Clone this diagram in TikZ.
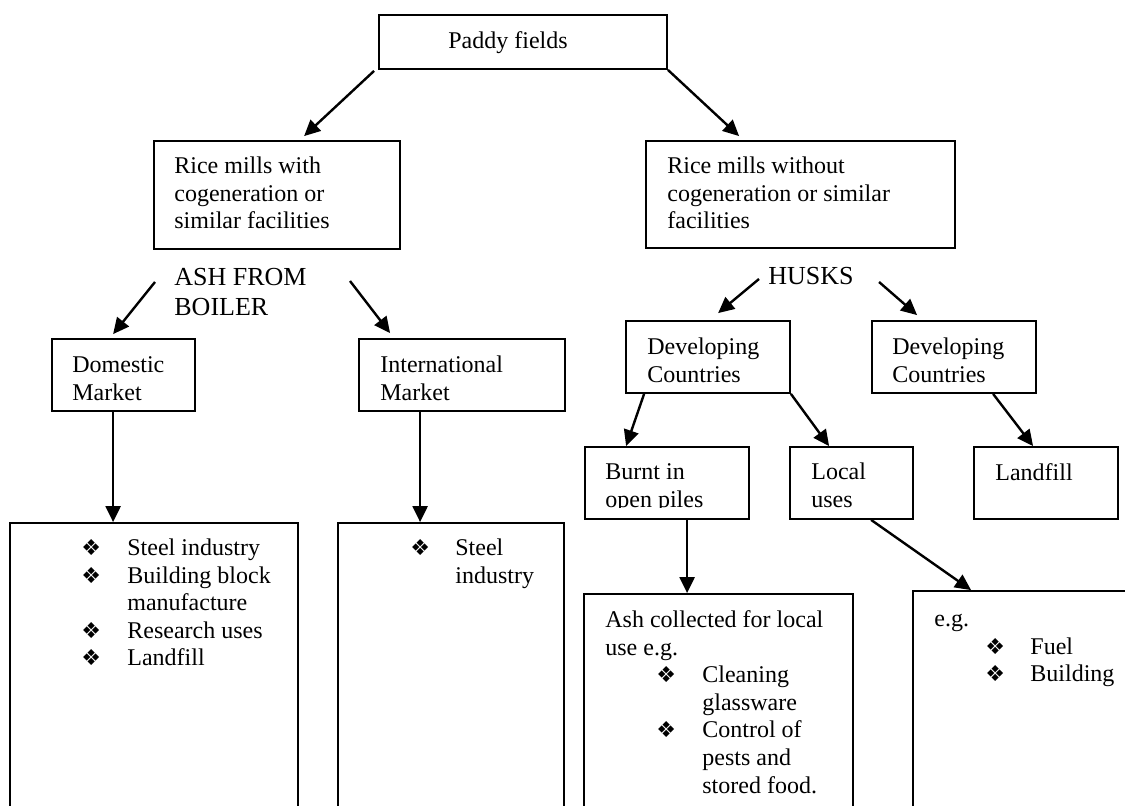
\documentclass[tikz,border=0pt]{standalone}
\usepackage{fontspec}
\setmainfont{Liberation Serif}
\newfontfamily\dejavu{DejaVu Sans}
\usetikzlibrary{arrows.meta,fit,calc}
\newcommand\bul{{\dejavu\fontsize{11}{13.8}\selectfont ❖}}
\begin{document}
\begin{tikzpicture}[x=0.5pt,y=-0.5pt,
  box/.style={draw, line width=0.9pt, inner sep=0pt},
  txt/.style={inner sep=0pt, anchor=north west, align=left, font=\fontsize{12}{13.8}\selectfont},
  big/.style={inner sep=0pt, align=left, font=\fontsize{13}{15}\selectfont},
  arr/.style={line width=1.2pt, -{Triangle[length=8pt,width=7.5pt]}}]
\useasboundingbox (0,0) rectangle (1125,806);
\clip (0,0) rectangle (1125,806);
% boxes
\node[box, fit={(379,15) (667,69)}] (paddy) {};
\node[box, fit={(154,141) (400,249)}] (rwith) {};
\node[box, fit={(646,141) (955,248)}] (rwo) {};
\node[box, fit={(52,339) (195,411)}] (dom) {};
\node[box, fit={(359,339) (565,411)}] (intl) {};
\node[box, fit={(626,321) (790,393)}] (dev1) {};
\node[box, fit={(872,321) (1036,393)}] (dev2) {};
\node[box, fit={(585,447) (749,519)}] (burnt) {};
\node[box, fit={(790,447) (913,519)}] (local) {};
\node[box, fit={(974,447) (1118,519)}] (landfill) {};
\node[box, fit={(10,523) (298,840)}] (domuse) {};
\node[box, fit={(338,523) (564,840)}] (intuse) {};
\node[box, fit={(584,594) (853,840)}] (ash) {};
\node[box, fit={(913,591) (1160,840)}] (eg) {};
% texts
\node[txt, anchor=base west] (paddyT) at (448,49) {Paddy fields};
\node[txt] (rwithT) at (174,153.7) {\strut Rice mills with\\\strut cogeneration or\\\strut similar facilities};
\node[txt] (rwoT) at (667,153.7) {\strut Rice mills without\\\strut cogeneration or similar\\\strut facilities};
\node[big, anchor=north west] (ashT) at (174,264) {\strut ASH FROM\\\strut BOILER};
\node[big, anchor=base west] (husks) at (768,285) {HUSKS};
\node[txt] (domT) at (72,352.7) {\strut Domestic\\\strut Market};
\node[txt] (intlT) at (380,352.7) {\strut International\\\strut Market};
\node[txt] (dev1T) at (647,334.7) {\strut Developing\\\strut Countries};
\node[txt] (dev2T) at (892,334.7) {\strut Developing\\\strut Countries};
\begin{scope}
\clip (585,447) rectangle (749,508);
\node[txt] (burntT) at (605,459.7) {\strut Burnt in\\\strut open piles};
\end{scope}
\node[txt] (localT) at (811,459.7) {\strut Local\\\strut uses};
\node[txt] (landT) at (995,460.7) {\strut Landfill};
\node[txt] (domuseT) at (81,535.7) {\strut\makebox[23pt][l]{\bul}Steel industry\\
  \strut\makebox[23pt][l]{\bul}Building block\\
  \strut\hspace*{23pt}manufacture\\
  \strut\makebox[23pt][l]{\bul}Research uses\\
  \strut\makebox[23pt][l]{\bul}Landfill};
\node[txt] (intuseT) at (410,535.7) {\strut\makebox[22.5pt][l]{\bul}Steel\\
  \strut\hspace*{22.5pt}industry};
\node[txt] (ashuseT) at (605,607.7) {\strut Ash collected for local\\
  \strut use e.g.\\
  \strut\hspace*{25.5pt}\makebox[23pt][l]{\bul}Cleaning\\
  \strut\hspace*{48.5pt}glassware\\
  \strut\hspace*{25.5pt}\makebox[23pt][l]{\bul}Control of\\
  \strut\hspace*{48.5pt}pests and\\
  \strut\hspace*{48.5pt}stored food.};
\node[txt] (egT) at (934,606.7) {\strut e.g.\\
  \strut\hspace*{25.5pt}\makebox[22.5pt][l]{\bul}Fuel\\
  \strut\hspace*{25.5pt}\makebox[22.5pt][l]{\bul}Building};
% connectors
\draw[arr] ($(paddy.south west)+(-4,1)$) -- ($(rwith.north west)+(151,-4)$);
\draw[arr] (paddy.south east) -- ($(rwo.north west)+(94,-4)$);
\draw[arr] ($(ashT.north west)+(-19,18)$) -- ($(dom.north west)+(62,-4)$);
\draw[arr] ($(ashT.north west)+(176,17)$) -- ($(intl.north west)+(32,-5)$);
\draw[arr] ($(husks.base west)+(-9,-6)$) -- ($(dev1.north west)+(93,-7)$);
\draw[arr] ($(husks.base east)+(25,-3)$) -- ($(dev2.north west)+(46,-5)$);
\draw[arr] ($(dom.south west)+(62,0)$) -- ($(domuse.north west)+(104,0)$);
\draw[arr] ($(intl.south west)+(62,0)$) -- ($(intuse.north west)+(83,0)$);
\draw[arr] ($(dev1.south west)+(19,0)$) -- ($(burnt.north west)+(42,0)$);
\draw[arr] (dev1.south east) -- ($(local.north west)+(40,0)$);
\draw[arr] ($(dev2.south west)+(122,0)$) -- ($(landfill.north west)+(60,0)$);
\draw[arr] ($(burnt.south west)+(103,0)$) -- ($(ash.north west)+(104,0)$);
\draw[arr] ($(local.south west)+(82,0)$) -- ($(eg.north west)+(59,0)$);
\end{tikzpicture}
\end{document}
